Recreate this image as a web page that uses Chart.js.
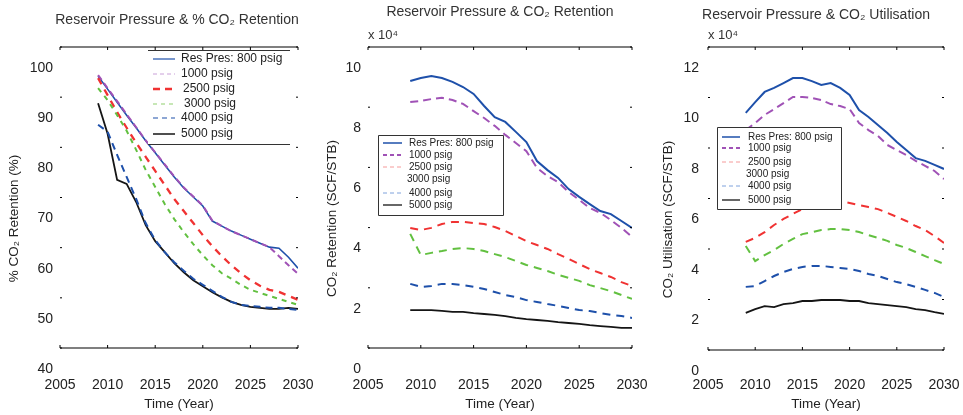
<!DOCTYPE html>
<html>
<head>
<meta charset="utf-8">
<script src="https://cdn.jsdelivr.net/npm/chart.js@4.4.1/dist/chart.umd.min.js"></script>
<style>
html, body { margin: 0; padding: 0; background: #fff; }
#wrap { position: relative; width: 963px; height: 415px; overflow: hidden; }
canvas { position: absolute; top: 0; }
</style>
</head>
<body>
<div id="wrap">
  <canvas id="c1" style="left:0px" width="325" height="415"></canvas>
  <canvas id="c2" style="left:315px" width="335" height="415"></canvas>
  <canvas id="c3" style="left:640px" width="323" height="415"></canvas>
</div>
<script>
// ---- data ----
var years = [2009, 2010, 2011, 2012, 2013, 2014, 2015, 2016, 2017, 2018, 2019,
             2020, 2021, 2022, 2023, 2024, 2025, 2026, 2027, 2028, 2029, 2030];
var pressureLabels = ['Res Pres: 800 psig', '1000 psig', '2500 psig', '3000 psig', '4000 psig', '5000 psig'];

var xTicks = [2005, 2010, 2015, 2020, 2025, 2030];
var pctTicks = [40, 50, 60, 70, 80, 90, 100];
var retTicks = [0, 2, 4, 6, 8, 10];
var utilTicks = [0, 2, 4, 6, 8, 10, 12];

// % CO2 retention
var pctRet800  = [94.2, 91.6, 89.0, 86.4, 83.9, 81.3, 78.9, 76.5, 74.1, 71.9, 70.1, 68.3, 65.3, 64.3, 63.3, 62.5, 61.7, 60.9, 60.1, 59.9, 58.1, 55.9];
var pctRet1000 = [94.4, 91.8, 89.2, 86.6, 84.0, 81.4, 79.0, 76.6, 74.2, 72.0, 70.2, 68.4, 65.4, 64.3, 63.3, 62.5, 61.7, 60.9, 60.1, 58.3, 56.5, 54.8];
var pctRet2500 = [93.8, 90.4, 87.0, 83.9, 80.9, 78.1, 75.3, 72.5, 69.7, 67.3, 64.9, 62.5, 60.3, 58.3, 56.5, 54.9, 53.5, 52.4, 51.6, 51.2, 50.4, 49.6];
var pctRet3000 = [91.8, 89.4, 86.4, 83.3, 79.5, 75.5, 72.1, 68.7, 65.7, 63.1, 60.7, 58.5, 56.5, 54.9, 53.8, 52.6, 51.6, 51.0, 50.4, 49.8, 49.2, 48.6];
var pctRet4000 = [84.5, 83.1, 78.5, 74.1, 69.7, 64.9, 61.5, 59.1, 57.1, 55.4, 53.8, 52.6, 51.4, 50.2, 49.2, 48.6, 48.4, 48.2, 48.0, 48.0, 47.8, 47.6];
var pctRet5000 = [88.8, 82.7, 73.5, 72.7, 69.1, 64.5, 61.3, 59.1, 56.9, 55.1, 53.5, 52.3, 51.1, 50.1, 49.2, 48.6, 48.2, 48.0, 47.8, 47.8, 48.0, 47.8];

// CO2 retention, SCF/STB x 10^4
var ret800  = [8.87, 8.97, 9.04, 8.97, 8.84, 8.67, 8.44, 8.04, 7.67, 7.51, 7.18, 6.84, 6.21, 5.91, 5.65, 5.28, 5.02, 4.78, 4.55, 4.45, 4.22, 3.99];
var ret1000 = [8.17, 8.21, 8.27, 8.31, 8.24, 8.11, 7.87, 7.64, 7.38, 7.08, 6.81, 6.54, 5.98, 5.71, 5.51, 5.18, 4.92, 4.65, 4.49, 4.25, 3.99, 3.69];
var ret2500 = [3.99, 3.92, 3.99, 4.12, 4.19, 4.19, 4.15, 4.12, 4.02, 3.89, 3.72, 3.55, 3.42, 3.29, 3.12, 2.96, 2.79, 2.62, 2.49, 2.36, 2.19, 2.06];
var ret3000 = [3.79, 3.09, 3.16, 3.22, 3.29, 3.32, 3.29, 3.22, 3.12, 3.02, 2.89, 2.76, 2.66, 2.56, 2.43, 2.33, 2.23, 2.09, 1.99, 1.89, 1.76, 1.63];
var ret4000 = [2.13, 2.03, 2.06, 2.13, 2.13, 2.09, 2.03, 1.96, 1.86, 1.76, 1.69, 1.59, 1.53, 1.46, 1.40, 1.33, 1.26, 1.23, 1.16, 1.10, 1.06, 1.00];
var ret5000 = [1.26, 1.26, 1.26, 1.23, 1.20, 1.20, 1.16, 1.13, 1.10, 1.06, 1.00, 0.96, 0.93, 0.90, 0.86, 0.83, 0.80, 0.76, 0.73, 0.70, 0.67, 0.67];

// CO2 utilisation, SCF/STB x 10^4
var util800  = [9.39, 9.82, 10.22, 10.38, 10.57, 10.77, 10.77, 10.65, 10.50, 10.57, 10.38, 10.10, 9.50, 9.23, 8.91, 8.59, 8.24, 7.92, 7.60, 7.49, 7.33, 7.17];
var util1000 = [8.71, 8.99, 9.31, 9.54, 9.78, 10.02, 10.02, 9.98, 9.90, 9.74, 9.66, 9.54, 8.99, 8.71, 8.48, 8.12, 7.92, 7.72, 7.49, 7.29, 7.09, 6.77];
var util2500 = [4.28, 4.44, 4.67, 4.95, 5.19, 5.39, 5.58, 5.70, 5.82, 5.90, 5.90, 5.82, 5.74, 5.66, 5.58, 5.43, 5.27, 5.11, 4.91, 4.75, 4.51, 4.24];
var util3000 = [4.12, 3.52, 3.76, 3.96, 4.20, 4.40, 4.59, 4.67, 4.75, 4.79, 4.79, 4.75, 4.67, 4.55, 4.44, 4.32, 4.16, 4.04, 3.88, 3.72, 3.56, 3.41];
var util4000 = [2.50, 2.53, 2.73, 2.93, 3.09, 3.21, 3.29, 3.33, 3.33, 3.29, 3.25, 3.21, 3.13, 3.01, 2.93, 2.81, 2.69, 2.61, 2.50, 2.38, 2.26, 2.10];
var util5000 = [1.47, 1.62, 1.74, 1.70, 1.82, 1.86, 1.94, 1.94, 1.98, 1.98, 1.98, 1.94, 1.94, 1.86, 1.82, 1.78, 1.74, 1.70, 1.62, 1.58, 1.50, 1.43];

// ---- styles ----
var FONT = "'Liberation Sans', Arial, Helvetica, sans-serif";
var TEXT = '#222';
var BLUE = '#1e50aa', PURPLE = '#a052b6', RED = '#f03232', GREEN = '#62c040', BLACK = '#151515';

function points(values) {
    return years.map(function (yr, i) { return { x: yr, y: values[i] }; });
}

function series(label, values, color, dash, width, order) {
    return {
        label: label,
        data: points(values),
        borderColor: color,
        borderDash: dash,
        borderWidth: width,
        pointRadius: 0,
        tension: 0,
        fill: false,
        order: order
    };
}

// matlab style frame, panel title, y title and legend box (one instance per panel)
function matlabFrame(p) {
    return {
        id: 'matlabFrame',
        afterDatasetsDraw: function (chart) {
            var ctx = chart.ctx, a = chart.chartArea;
            var xs = chart.scales.x, ys = chart.scales.y;
            ctx.save();

            ctx.strokeStyle = '#000';
            ctx.lineWidth = 1.2;
            ctx.beginPath();
            ctx.moveTo(a.left, a.top); ctx.lineTo(a.right, a.top);
            ctx.moveTo(a.left, a.bottom); ctx.lineTo(a.right, a.bottom);
            ctx.stroke();

            ctx.lineWidth = 1;
            ctx.beginPath();
            xs.ticks.forEach(function (t) {
                var px = xs.getPixelForValue(t.value);
                ctx.moveTo(px, a.top); ctx.lineTo(px, a.top + 3);
                ctx.moveTo(px, a.bottom); ctx.lineTo(px, a.bottom - 3);
            });
            ys.ticks.forEach(function (t) {
                var py = ys.getPixelForValue(t.value);
                ctx.moveTo(a.left, py); ctx.lineTo(a.left + 2, py);
                ctx.moveTo(a.right, py); ctx.lineTo(a.right - 2, py);
            });
            ctx.stroke();

            ctx.fillStyle = '#333';
            ctx.font = '14px ' + FONT;
            ctx.textAlign = 'center';
            ctx.textBaseline = 'middle';
            ctx.fillText(p.title, p.titleX, p.titleY);
            if (p.multiplier) {
                ctx.font = '13px ' + FONT;
                ctx.textAlign = 'left';
                ctx.fillText(p.multiplier, a.left, 35);
            }

            // y title sits lower than the axis centre, like the tick labels
            ctx.save();
            ctx.translate(p.yTitleX, (a.top + a.bottom) / 2 + 21);
            ctx.rotate(-Math.PI / 2);
            ctx.fillStyle = TEXT;
            ctx.font = '13.5px ' + FONT;
            ctx.textAlign = 'center';
            ctx.fillText(p.yTitle, 0, 0);
            ctx.restore();

            var L = p.legend;
            ctx.fillStyle = '#fff';
            ctx.fillRect(L.x0, L.y0, L.x1 - L.x0, L.y1 - L.y0);
            ctx.strokeStyle = '#333';
            ctx.lineWidth = 1;
            ctx.beginPath();
            if (L.box) {
                ctx.rect(L.x0 + 0.5, L.y0 + 0.5, L.x1 - L.x0, L.y1 - L.y0);
            } else {
                ctx.moveTo(L.x0, L.y0 + 0.5); ctx.lineTo(L.x1, L.y0 + 0.5);
                ctx.moveTo(L.x0, L.y1 + 0.5); ctx.lineTo(L.x1, L.y1 + 0.5);
            }
            ctx.stroke();

            ctx.font = L.font + 'px ' + FONT;
            ctx.textAlign = 'left';
            ctx.textBaseline = 'middle';
            chart.data.datasets.forEach(function (ds, i) {
                var y = L.rows[i], s = L.samples[i];
                if (s.c) {
                    ctx.strokeStyle = s.c;
                    ctx.lineWidth = s.w;
                    ctx.setLineDash(s.d);
                    ctx.beginPath();
                    ctx.moveTo(L.sx0, y); ctx.lineTo(L.sx1, y);
                    ctx.stroke();
                    ctx.setLineDash([]);
                }
                ctx.fillStyle = TEXT;
                ctx.fillText(ds.label, L.tx + (L.indent ? L.indent[i] : 0), y);
            });
            ctx.restore();
        }
    };
}

function makePanel(id, p) {
    var ctx = document.getElementById(id).getContext('2d');
    return new Chart(ctx, {
        type: 'line',
        data: { datasets: p.datasets },
        options: {
            responsive: false,
            animation: false,
            events: [],
            layout: { padding: { top: 47, left: p.padLeft, right: p.padRight, bottom: 0 } },
            plugins: {
                legend: { display: false },
                tooltip: { enabled: false }
            },
            scales: {
                x: {
                    type: 'linear',
                    min: 2005,
                    max: 2030,
                    afterBuildTicks: function (s) { s.ticks = xTicks.map(function (v) { return { value: v }; }); },
                    afterFit: function (s) { s.height = p.xHeight; },
                    grid: { display: true, drawOnChartArea: false, drawTicks: true, tickLength: p.xTickGap, color: 'rgba(0,0,0,0)' },
                    border: { display: false },
                    ticks: {
                        padding: 0,
                        color: TEXT,
                        font: { family: FONT, size: 14 },
                        maxRotation: 0,
                        callback: function (v) { return String(v); }
                    },
                    title: { display: true, text: 'Time (Year)', color: TEXT, font: { family: FONT, size: 13.5 }, padding: { top: 0, bottom: 3 } }
                },
                y: {
                    type: 'linear',
                    min: p.yTicks[0],
                    max: p.yTicks[p.yTicks.length - 1],
                    afterBuildTicks: function (s) { s.ticks = p.yTicks.map(function (v) { return { value: v }; }); },
                    afterFit: function (s) { s.width = p.yWidth; },
                    grid: { display: false, drawTicks: false },
                    border: { display: false },
                    ticks: {
                        padding: p.yTickPad,
                        labelOffset: 21,
                        color: TEXT,
                        font: { family: FONT, size: 14 }
                    },
                    title: { display: false }
                }
            }
        },
        plugins: [matlabFrame(p)]
    });
}

var smallSamples = [
    { c: BLUE, d: [], w: 1.5 },
    { c: PURPLE, d: [4, 3], w: 1.8 },
    { c: '#f59a9a', d: [4, 3], w: 1 },
    { c: null },
    { c: '#7ea2dc', d: [4, 3], w: 1 },
    { c: BLACK, d: [], w: 1.3 }
];

makePanel('c1', {
    title: 'Reservoir Pressure & % CO\u2082 Retention', titleX: 177, titleY: 20,
    yTitle: '% CO\u2082 Retention (%)', yTitleX: 14,
    yTicks: pctTicks, padLeft: 0, padRight: 27, yWidth: 60, yTickPad: 7, xHeight: 67, xTickGap: 29,
    datasets: [
        series(pressureLabels[0], pctRet800, BLUE, [], 1.6, 6),
        series(pressureLabels[1], pctRet1000, PURPLE, [6, 4], 2, 5),
        series(pressureLabels[2], pctRet2500, RED, [7, 6], 2.3, 4),
        series(pressureLabels[3], pctRet3000, GREEN, [5, 5], 2, 3),
        series(pressureLabels[4], pctRet4000, BLUE, [7, 5], 2, 1),
        series(pressureLabels[5], pctRet5000, BLACK, [], 1.8, 2)
    ],
    legend: {
        x0: 148, x1: 290, y0: 50, y1: 144, box: false, font: 12,
        rows: [59, 74, 89, 104, 118, 134], sx0: 153, sx1: 175, tx: 181, indent: [0, 0, 2, 3, 0, 0],
        samples: [
            { c: BLUE, d: [], w: 1.2 },
            { c: '#c9a0d8', d: [4, 3], w: 1 },
            { c: RED, d: [7, 5], w: 2.5 },
            { c: '#8fd06e', d: [4, 4], w: 1.2 },
            { c: BLUE, d: [5, 4], w: 1.2 },
            { c: BLACK, d: [], w: 1.5 }
        ]
    }
});

makePanel('c2', {
    title: 'Reservoir Pressure & CO\u2082 Retention', titleX: 185, titleY: 12, multiplier: 'x 10\u2074',
    yTitle: 'CO\u2082 Retention (SCF/STB)', yTitleX: 17,
    yTicks: retTicks, padLeft: 0, padRight: 18, yWidth: 53, yTickPad: 7, xHeight: 67, xTickGap: 29,
    datasets: [
        series(pressureLabels[0], ret800, BLUE, [], 2, 6),
        series(pressureLabels[1], ret1000, PURPLE, [8, 5], 2, 5),
        series(pressureLabels[2], ret2500, RED, [8, 6], 2, 4),
        series(pressureLabels[3], ret3000, GREEN, [8, 6], 2, 3),
        series(pressureLabels[4], ret4000, BLUE, [8, 6], 2, 2),
        series(pressureLabels[5], ret5000, BLACK, [], 1.8, 1)
    ],
    legend: {
        x0: 63, x1: 188, y0: 135, y1: 215, box: true, font: 10,
        rows: [143, 155, 167, 179, 193, 205], sx0: 68, sx1: 87, tx: 94, indent: [0, 0, 0, -2, 0, 0],
        samples: smallSamples
    }
});

makePanel('c3', {
    title: 'Reservoir Pressure & CO\u2082 Utilisation', titleX: 176, titleY: 15, multiplier: 'x 10\u2074',
    yTitle: 'CO\u2082 Utilisation (SCF/STB)', yTitleX: 28,
    yTicks: utilTicks, padLeft: 16, padRight: 19, yWidth: 52, yTickPad: 9, xHeight: 65, xTickGap: 27,
    datasets: [
        series(pressureLabels[0], util800, BLUE, [], 2, 6),
        series(pressureLabels[1], util1000, PURPLE, [8, 5], 2, 5),
        series(pressureLabels[2], util2500, RED, [8, 6], 2, 4),
        series(pressureLabels[3], util3000, GREEN, [8, 6], 2, 3),
        series(pressureLabels[4], util4000, BLUE, [8, 6], 2, 2),
        series(pressureLabels[5], util5000, BLACK, [], 1.8, 1)
    ],
    legend: {
        x0: 77, x1: 201, y0: 127, y1: 209, box: true, font: 10,
        rows: [137, 148, 162, 174, 186, 200], sx0: 82, sx1: 100, tx: 108, indent: [0, 0, 0, -2, 0, 0],
        samples: smallSamples
    }
});
</script>
</body>
</html>
